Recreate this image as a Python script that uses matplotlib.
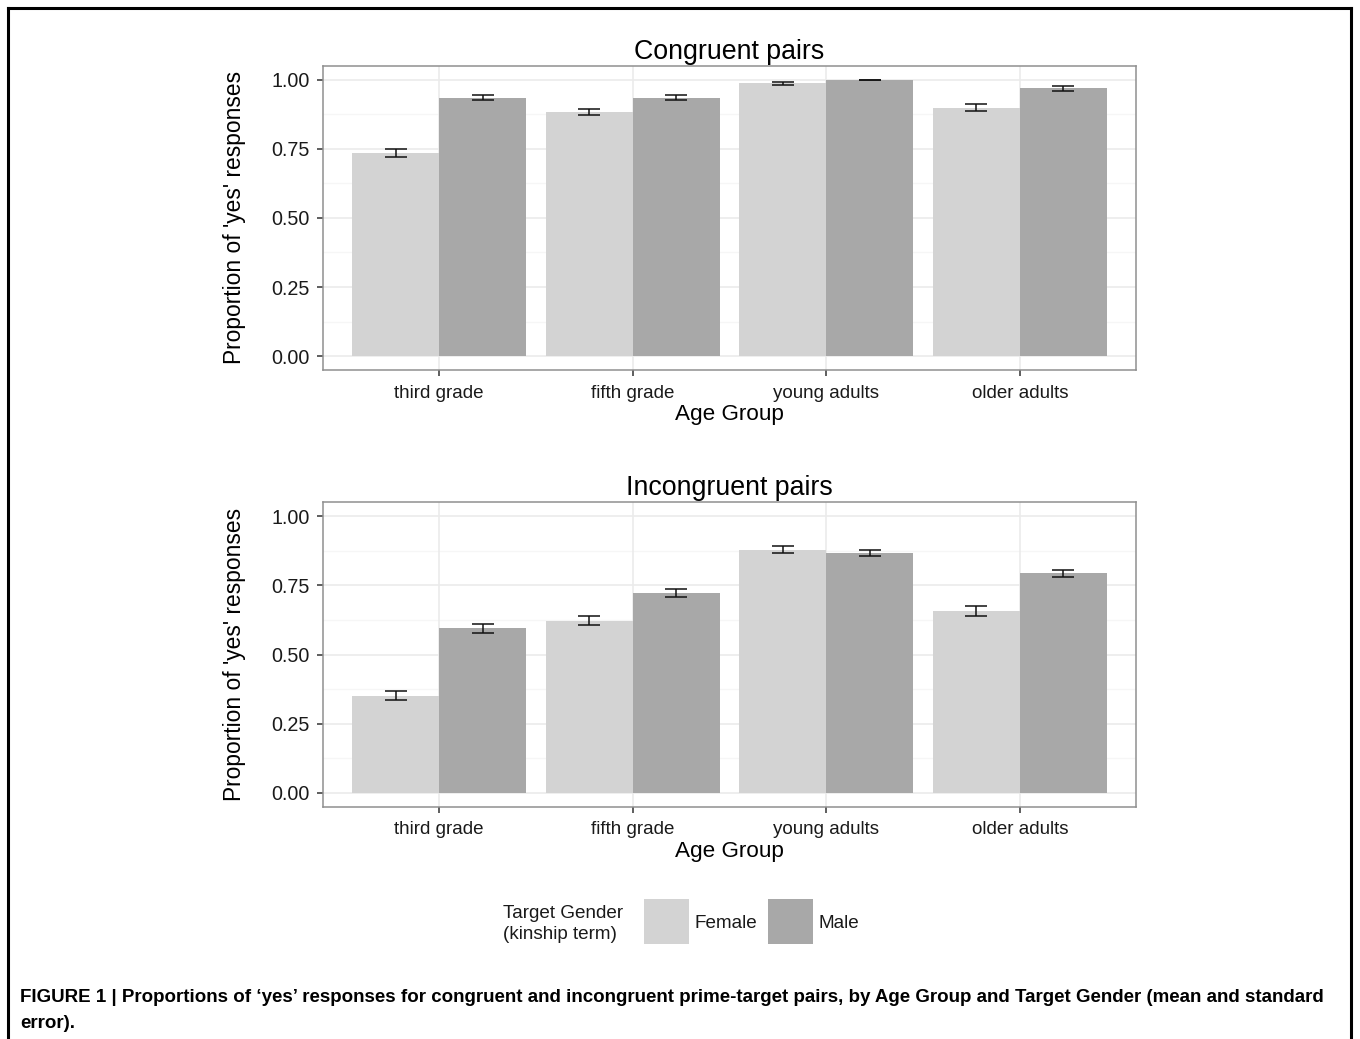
import matplotlib
matplotlib.use("Agg")
import matplotlib.pyplot as plt
from matplotlib.lines import Line2D
from matplotlib.patches import Rectangle
import numpy as np

plt.rcParams['font.family'] = ['Liberation Sans', 'DejaVu Sans']

# ---- data -------------------------------------------------------------
age_groups = ["third grade", "fifth grade", "young adults", "older adults"]
genders = ["Female", "Male"]

congruent_female = [0.735, 0.883, 0.986, 0.898]
congruent_male = [0.934, 0.934, 0.998, 0.968]
congruent_female_se = [0.015, 0.011, 0.005, 0.012]
congruent_male_se = [0.009, 0.009, 0.001, 0.008]

incongruent_female = [0.351, 0.622, 0.879, 0.657]
incongruent_male = [0.595, 0.722, 0.867, 0.793]
incongruent_female_se = [0.017, 0.016, 0.013, 0.017]
incongruent_male_se = [0.017, 0.014, 0.012, 0.013]

y_ticks = [0.0, 0.25, 0.5, 0.75, 1.0]
y_tick_labels = ["0.00", "0.25", "0.50", "0.75", "1.00"]

panel_titles = ["Congruent pairs", "Incongruent pairs"]
x_title = "Age Group"
y_title = "Proportion of 'yes' responses"
legend_title = "Target Gender\n(kinship term)"
caption_lines = [
    "FIGURE 1 | Proportions of \u2018yes\u2019 responses for congruent and incongruent "
    "prime-target pairs, by Age Group and Target Gender (mean and standard",
    "error).",
]

# ---- style ------------------------------------------------------------
W, H = 1360, 1039
fill_colors = {"Female": "#d3d3d3", "Male": "#a8a8a8"}
border_col = "#8f8f8f"
grid_major = "#ebebeb"
grid_minor = "#f6f6f6"
text_col = "#1a1a1a"


def fx(px):
    return px / W


def fy(py):
    return 1 - py / H


fig = plt.figure(figsize=(W / 100, H / 100), dpi=100)
fig.patch.set_facecolor("white")

panel_left, panel_right = 323, 1136
panels = [(65.7, 370.0), (502.3, 806.7)]

datasets = [
    (congruent_female, congruent_male, congruent_female_se, congruent_male_se),
    (incongruent_female, incongruent_male, incongruent_female_se, incongruent_male_se),
]

x = np.arange(1, len(age_groups) + 1)
bar_w = 0.45

for (top, bottom), data, title in zip(panels, datasets, panel_titles):
    ax = fig.add_axes([fx(panel_left), fy(bottom), (panel_right - panel_left) / W,
                       (bottom - top) / H])
    ax.set_xlim(0.4, 4.6)
    ax.set_ylim(-0.05, 1.05)

    # grid
    for v in [0.125, 0.375, 0.625, 0.875]:
        ax.axhline(v, color=grid_minor, lw=1.0, zorder=0)
    for v in y_ticks:
        ax.axhline(v, color=grid_major, lw=1.2, zorder=0)
    for v in x:
        ax.axvline(v, color=grid_major, lw=1.2, zorder=0)

    f_vals, m_vals, f_se, m_se = data
    for vals, se, off, g in [(f_vals, f_se, -bar_w / 2, "Female"),
                             (m_vals, m_se, bar_w / 2, "Male")]:
        ax.bar(x + off, vals, width=bar_w, color=fill_colors[g], edgecolor="none",
               zorder=2)
        ax.errorbar(x + off, vals, yerr=se, fmt="none", ecolor="#111111",
                    elinewidth=1.1, capsize=8.2, capthick=1.1, zorder=3)

    for s in ax.spines.values():
        s.set_color(border_col)
        s.set_linewidth(1.1)

    ax.set_yticks(y_ticks)
    ax.set_yticklabels(y_tick_labels)
    ax.set_xticks(x)
    ax.set_xticklabels(age_groups)
    ax.tick_params(axis="both", length=4.5, width=1.1, color="#333333",
                   labelcolor=text_col, pad=5)
    ax.tick_params(axis="x", labelsize=13.5, pad=6)
    ax.tick_params(axis="y", labelsize=14.2)

    ax.set_title(title, fontsize=19.3, color="black", pad=5)
    ax.set_xlabel(x_title, fontsize=16.2, color="black", labelpad=2)
    ax.set_ylabel(y_title, fontsize=16.4, color="black", labelpad=18)

# ---- legend -----------------------------------------------------------
fig.text(fx(503), fy(924), legend_title, fontsize=13.6, color=text_col,
         ha="left", va="center", linespacing=1.25)
key_boxes = [(644, "Female", 695), (768, "Male", 818)]
for x0, g, tx in key_boxes:
    fig.patches.append(Rectangle((fx(x0), fy(944)), 45 / W, 45 / H,
                                 transform=fig.transFigure, facecolor=fill_colors[g],
                                 edgecolor="none"))
    fig.text(fx(tx), fy(923), g, fontsize=13.6, color=text_col, ha="left", va="center")

# ---- caption and frame ------------------------------------------------
for line, yc in zip(caption_lines, [998, 1023]):
    fig.text(fx(20), fy(yc), line, fontsize=13.5, fontweight="bold",
             color="black", ha="left", va="center")

frame_kw = dict(color="black", lw=2.2, transform=fig.transFigure)
fig.lines.append(Line2D([fx(8), fx(8)], [fy(8), -0.05], **frame_kw))
fig.lines.append(Line2D([fx(8), fx(1351)], [fy(8), fy(8)], **frame_kw))
fig.lines.append(Line2D([fx(1351), fx(1351)], [fy(8), -0.05], **frame_kw))

fig.savefig("out.png", dpi=100, facecolor="white")
